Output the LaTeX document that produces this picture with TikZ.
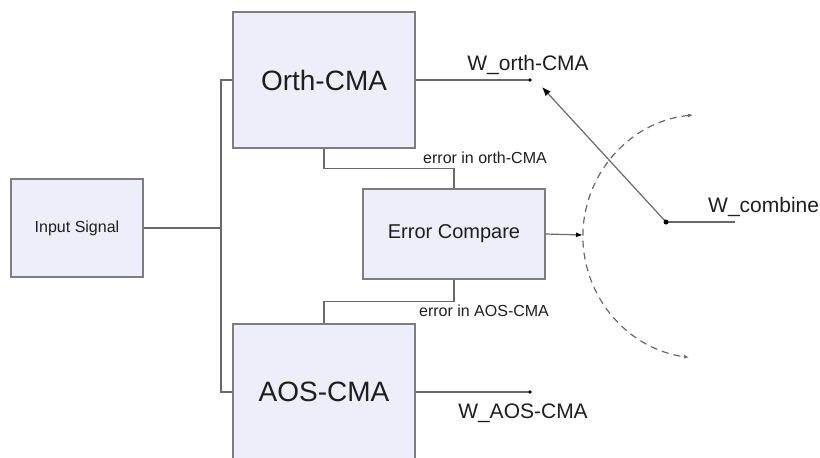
\documentclass[tikz,border=0pt]{standalone}
\usepackage{fontspec}
\setmainfont{Liberation Sans}
\usetikzlibrary{arrows.meta}
\definecolor{boxfill}{RGB}{238,238,250}
\definecolor{boxline}{RGB}{125,125,125}
\definecolor{wirecol}{RGB}{105,105,105}
\definecolor{txt}{RGB}{30,30,30}

\begin{document}
\begin{tikzpicture}[
	x=1pt, y=-1pt,
	block/.style={
		rectangle,
		draw=boxline,
		fill=boxfill,
		line width=1.2pt,
		align=center,
		inner sep=0pt,
		text=txt,
	},
	wire/.style={draw=wirecol, line width=1.2pt},
	lbl/.style={inner sep=0pt, text=txt},
]
\clip (0,0) rectangle (820,458);

\node[block, minimum width=132pt, minimum height=98pt, font=\fontsize{16}{19}\selectfont] (in) at (77,228) {Input Signal};

\node[block, minimum width=182pt, minimum height=136pt, font=\fontsize{28}{33}\selectfont] (orth) at (324,80) {Orth-CMA};
\node[block, minimum width=182pt, minimum height=136pt, font=\fontsize{28}{33}\selectfont] (aos) at (324,392) {AOS-CMA};

\node[block, minimum width=182pt, minimum height=90pt, font=\fontsize{20}{24}\selectfont] (cmp) at (454,234) {Error Compare};

\coordinate (bus) at (221,228);
\draw[wire] (in.east) -- (bus);
\draw[wire] (orth.west) -| (bus) |- (aos.west);

\draw[wire] (orth.south) -- ++(0,20) -| (cmp.north);
\draw[wire] (aos.north) -- ++(0,-22) -| (cmp.south);
\node[lbl, anchor=base, font=\fontsize{16}{19}\selectfont] (eo) at (485,163) {error in orth-CMA};
\node[lbl, anchor=base, font=\fontsize{16}{19}\selectfont] (ea) at (484,316) {error in AOS-CMA};

\coordinate (wo) at (530,80);
\coordinate (wa) at (530,392);
\draw[wire] (orth.east) -- (wo);
\draw[wire] (aos.east) -- (wa);
\fill[black] (wo) circle (1.8pt);
\fill[black] (wa) circle (1.8pt);
\node[lbl, anchor=base, font=\fontsize{21}{25}\selectfont] (lwo) at (528,70) {W\_orth-CMA};
\node[lbl, anchor=base, font=\fontsize{21}{25}\selectfont] (lwa) at (523,418) {W\_AOS-CMA};

\coordinate (arcin) at (583,235);
\draw[wire, -{Latex[length=7pt,width=5pt,color=black]}] (cmp.east) -- (arcin);

\draw[wire, dash pattern=on 7pt off 5pt, {Latex[length=5pt,width=4pt]}-{Latex[length=5pt,width=4pt]}] (693,115) arc[start angle=95.6, end angle=262.5, radius=122pt];

\coordinate (wc) at (666,222);
\coordinate (wcend) at (735,222);
\coordinate (wsel) at (542,87);
\draw[wire] (wc) -- (wcend);
\draw[wire, -{Latex[length=9pt,width=7pt,color=black]}] (wc) -- (wsel);
\fill[black] (wc) circle (2.5pt);
\node[lbl, anchor=base west, font=\fontsize{21}{25}\selectfont] (lwc) at (708,212) {W\_combine};

\end{tikzpicture}
\end{document}
